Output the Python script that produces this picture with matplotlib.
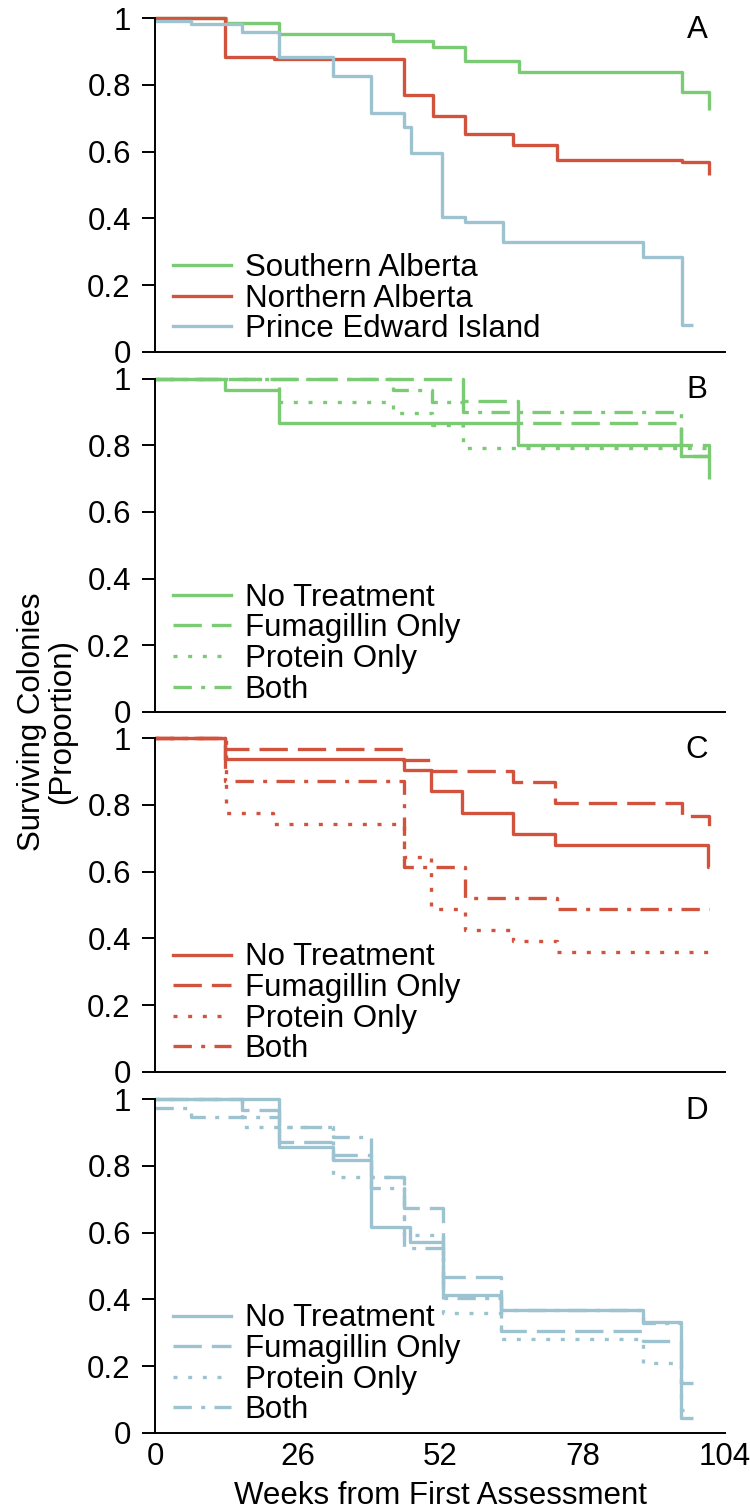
import matplotlib
matplotlib.use("Agg")
import matplotlib.pyplot as plt
from matplotlib.lines import Line2D

plt.rcParams['font.family'] = ['Liberation Sans', 'DejaVu Sans']

# ---------------- data ----------------
x_ticks = [0, 26, 52, 78, 104]
y_ticks = [0, 0.2, 0.4, 0.6, 0.8, 1.0]
y_tick_labels = ['0', '0.2', '0.4', '0.6', '0.8', '1']
panel_letters = ['A', 'B', 'C', 'D']
region_names = ['Southern Alberta', 'Northern Alberta', 'Prince Edward Island']
treatment_names = ['No Treatment', 'Fumagillin Only', 'Protein Only', 'Both']

# Panel A: regions (event times in weeks, survival after each time, last follow-up)
south_t = [0, 13.0, 22.7, 43.5, 50.7, 56.5, 66.4, 96.1, 101.1]
south_s = [1.0, 0.985, 0.952, 0.932, 0.915, 0.872, 0.84, 0.78, 0.725]
south_end = 101.1
north_t = [0, 12.7, 21.7, 45.4, 50.7, 56.5, 65.4, 73.3, 96.1, 101.1]
north_s = [1.0, 0.885, 0.877, 0.77, 0.707, 0.652, 0.62, 0.575, 0.568, 0.53]
north_end = 101.1
pei_t = [0, 6.6, 15.9, 22.7, 32.5, 39.5, 45.4, 46.7, 52.4, 56.5, 63.5, 89.1, 96.1]
pei_s = [0.993, 0.983, 0.96, 0.885, 0.827, 0.717, 0.675, 0.595, 0.405, 0.388, 0.33, 0.285, 0.08]
pei_end = 98.2

# Panel B: Southern Alberta treatments
b_none_t = [0, 12.7, 22.7, 66.2, 96.0, 101.1]
b_none_s = [1.0, 0.967, 0.867, 0.80, 0.767, 0.70]
b_fum_t = [0, 56.2, 66.2, 96.0, 101.1]
b_fum_s = [1.0, 0.933, 0.867, 0.80, 0.767]
b_prot_t = [0, 22.7, 43.5, 50.5, 56.2]
b_prot_s = [1.0, 0.931, 0.897, 0.862, 0.793]
b_both_t = [0, 43.5, 50.5, 56.2, 96.0]
b_both_s = [1.0, 0.966, 0.931, 0.90, 0.767]
b_end = 101.1

# Panel C: Northern Alberta treatments
c_none_t = [0, 12.7, 45.4, 50.3, 56.1, 65.4, 73.0, 100.9]
c_none_s = [1.0, 0.938, 0.906, 0.843, 0.777, 0.713, 0.68, 0.615]
c_fum_t = [0, 12.7, 45.2, 50.3, 65.4, 73.0, 96.1, 101.1]
c_fum_s = [1.0, 0.967, 0.936, 0.901, 0.868, 0.805, 0.767, 0.735]
c_prot_t = [0, 12.9, 21.6, 45.4, 50.3, 56.5, 65.4, 73.3, 101.1]
c_prot_s = [1.0, 0.777, 0.742, 0.645, 0.488, 0.426, 0.393, 0.36, 0.345]
c_both_t = [0, 12.7, 45.4, 56.5, 73.3]
c_both_s = [1.0, 0.871, 0.613, 0.52, 0.488]
c_end = 101.1

# Panel D: Prince Edward Island treatments
d_none_t = [0, 22.7, 32.5, 39.5, 46.5, 52.6, 63.2, 89.1, 96.0]
d_none_s = [1.0, 0.858, 0.818, 0.618, 0.571, 0.413, 0.368, 0.333, 0.043]
d_fum_t = [0, 15.9, 22.7, 32.5, 39.5, 45.4, 52.6, 63.2, 89.1, 96.0]
d_fum_s = [1.0, 0.967, 0.873, 0.833, 0.768, 0.673, 0.468, 0.305, 0.275, 0.148]
d_prot_t = [0, 15.9, 32.5, 45.4, 52.6, 63.2, 89.1, 96.0]
d_prot_s = [1.0, 0.918, 0.768, 0.593, 0.358, 0.281, 0.208, 0.068]
d_both_t = [0, 6.6, 22.7, 32.5, 39.5, 45.4, 52.6, 63.2, 89.1]
d_both_s = [0.973, 0.946, 0.918, 0.888, 0.733, 0.553, 0.403, 0.368, 0.328]
d_end = 98.2
d_both_end = 96.0

# ---------------- style ----------------
GREEN = '#7ACB74'
RED = '#D1533D'
BLUE = '#9DC3D0'
LW = 2.4
styles = {
    'solid': '-',
    'dashed': (0, (8.5, 3.0)),
    'dotted': (0, (1.2, 3.2)),
    'dashdot': (0, (5.5, 2.8, 1.2, 2.8)),
}
treat_styles = ['solid', 'dashed', 'dotted', 'dashdot']
FS = 22.5

W, H = 750, 1511
fig = plt.figure(figsize=(W / 100, H / 100), dpi=100)

left = 155 / W
width = 570 / W
panel_px = [(18.3, 351.7), (378.5, 711.9), (738.3, 1071.7), (1099.3, 1432.7)]
axes = []
for top, bot in panel_px:
    ax = fig.add_axes([left, 1 - bot / H, width, (bot - top) / H])
    axes.append(ax)


def km(ax, t, s, end, color, style):
    xs = list(t) + [end]
    ys = list(s) + [s[-1]]
    ax.step(xs, ys, where='post', color=color, lw=LW,
            linestyle=styles[style], clip_on=False, solid_capstyle='butt')


# Panel A
km(axes[0], south_t, south_s, south_end, GREEN, 'solid')
km(axes[0], north_t, north_s, north_end, RED, 'solid')
km(axes[0], pei_t, pei_s, pei_end, BLUE, 'solid')

# Panel B
for (t, s), st in zip([(b_none_t, b_none_s), (b_fum_t, b_fum_s),
                       (b_prot_t, b_prot_s), (b_both_t, b_both_s)], treat_styles):
    km(axes[1], t, s, b_end, GREEN, st)

# Panel C
for (t, s), st in zip([(c_none_t, c_none_s), (c_fum_t, c_fum_s),
                       (c_prot_t, c_prot_s), (c_both_t, c_both_s)], treat_styles):
    km(axes[2], t, s, c_end, RED, st)

# Panel D
km(axes[3], d_none_t, d_none_s, d_end, BLUE, 'solid')
km(axes[3], d_fum_t, d_fum_s, d_end, BLUE, 'dashed')
km(axes[3], d_prot_t, d_prot_s, d_end, BLUE, 'dotted')
km(axes[3], d_both_t, d_both_s, d_both_end, BLUE, 'dashdot')

# Legends
def add_legend(ax, names, colors, stys):
    handles = [Line2D([0], [0], color=c, lw=LW, linestyle=styles[st])
               for c, st in zip(colors, stys)]
    ax.legend(handles, names, loc='lower left', bbox_to_anchor=(0.031, 0.022),
              frameon=False, fontsize=FS, handlelength=1.86, handletextpad=0.45,
              labelspacing=0.02, borderpad=0.0, borderaxespad=0.0)

add_legend(axes[0], region_names, [GREEN, RED, BLUE], ['solid'] * 3)
add_legend(axes[1], treatment_names, [GREEN] * 4, treat_styles)
add_legend(axes[2], treatment_names, [RED] * 4, treat_styles)
add_legend(axes[3], treatment_names, [BLUE] * 4, treat_styles)

for i, ax in enumerate(axes):
    ax.set_xlim(0, 104)
    ax.set_ylim(0, 1)
    for sp in ['top', 'right']:
        ax.spines[sp].set_visible(False)
    for sp in ['left', 'bottom']:
        ax.spines[sp].set_linewidth(1.4)
    ax.set_yticks(y_ticks)
    ax.set_yticklabels(y_tick_labels)
    ax.tick_params(axis='y', direction='out', length=9.4, width=1.4,
                   labelsize=FS, pad=8)
    ax.set_xticks(x_ticks)
    if i < 3:
        ax.tick_params(axis='x', length=0, labelbottom=False)
    else:
        ax.set_xticklabels([str(v) for v in x_ticks])
        ax.tick_params(axis='x', length=0, labelsize=FS, pad=7)
    ax.text(0.951, 0.941, panel_letters[i], transform=ax.transAxes,
            ha='center', va='baseline', fontsize=FS)

fig.text((155 + 725) / 2 / W, 1 - 1504 / H, 'Weeks from First Assessment',
         ha='center', va='baseline', fontsize=FS)
fig.text(47 / W, 1 - 722 / H, 'Surviving Colonies\n(Proportion)', rotation=90,
         ha='center', va='center', multialignment='center', fontsize=FS,
         linespacing=1.0)

fig.savefig('out.png', dpi=100)
